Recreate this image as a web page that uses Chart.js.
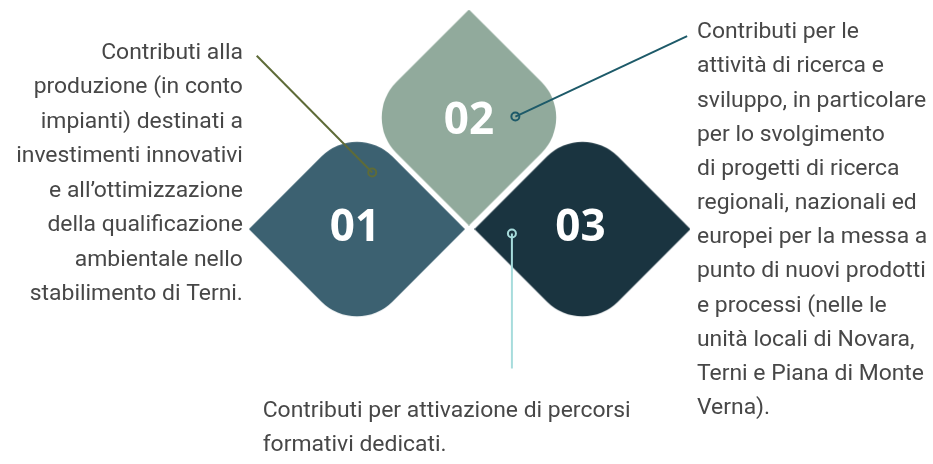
<!DOCTYPE html>
<html>
<head>
<meta charset="utf-8">
<script src="https://cdn.jsdelivr.net/npm/chart.js@4.4.1/dist/chart.umd.min.js"></script>
<style>
  html, body { margin: 0; padding: 0; background: #ffffff; }
  #wrap { width: 933px; height: 464px; position: relative; }
</style>
</head>
<body>
<div id="wrap"><canvas id="c"></canvas></div>
<script>
// ---- data ----
const stepLabels = ["01", "02", "03"];
const shapeX = [355.5, 469, 584];
const shapeY = [229, 114.5, 229];
const shapeColors = ["#3c6171", "#91aa9c", "#1a3440"];
const shapeRotation = [0, 90, 0];

const connector1 = [{x: 371, y: 171}, {x: 254, y: 51}];
const connector2 = [{x: 516, y: 113.5}, {x: 690, y: 31}];
const connector3 = [{x: 512.5, y: 233.5}, {x: 512.5, y: 372}];
const connectorColors = ["#5e6b38", "#1d5a69", "#a7dcdc"];

const textLeft = ["Contributi alla", "produzione (in conto", "impianti) destinati a", "investimenti innovativi", "e all\u2019ottimizzazione", "della qualificazione", "ambientale nello", "stabilimento di Terni."];
const textRight = ["Contributi per le", "attivit\u00e0 di ricerca e", "sviluppo, in particolare", "per lo svolgimento", "di progetti di ricerca", "regionali, nazionali ed", "europei per la messa a", "punto di nuovi prodotti", "e processi (nelle le", "unit\u00e0 locali di Novara,", "Terni e Piana di Monte", "Verna)."];
const textBottom = ["Contributi per attivazione di percorsi", "formativi dedicati."];

// ---- point style canvases (diamond with two rounded corners) ----
function makeShape(color) {
  const s = 216, r = 50, c = document.createElement('canvas');
  c.width = s; c.height = s;
  const g = c.getContext('2d');
  g.fillStyle = color;
  g.beginPath();
  g.moveTo(0, s / 2);
  g.arcTo(s / 2, 0, s, s / 2, r);
  g.lineTo(s, s / 2);
  g.arcTo(s / 2, s, 0, s / 2, r);
  g.closePath();
  g.fill();
  return c;
}
const shapeStyles = shapeColors.map(makeShape);

const TEXT_COLOR = '#474747';
const NUM_NUDGE = [[-2, -1], [0, 4], [-2, -1]];

const labelPlugin = {
  id: 'labels',
  afterDatasetsDraw(chart) {
    const ctx = chart.ctx;
    const xs = chart.scales.x, ys = chart.scales.y;
    ctx.save();
    // step numbers
    ctx.fillStyle = '#ffffff';
    ctx.font = 'bold 44px "Open Sans"';
    ctx.textAlign = 'center';
    ctx.textBaseline = 'middle';
    stepLabels.forEach((t, i) => {
      ctx.fillText(t, xs.getPixelForValue(shapeX[i]) + NUM_NUDGE[i][0], ys.getPixelForValue(shapeY[i]) + NUM_NUDGE[i][1]);
    });
    // descriptions: size fitted so the long bottom line spans ~368px
    ctx.font = '20px Roboto';
    const w20 = ctx.measureText(textBottom[0]).width;
    const size = Math.min(24, Math.max(16, 20 * 368 / w20));
    ctx.font = size.toFixed(2) + 'px Roboto';
    ctx.fillStyle = TEXT_COLOR;
    ctx.textBaseline = 'alphabetic';
    ctx.textAlign = 'right';
    textLeft.forEach((t, i) => ctx.fillText(t, xs.getPixelForValue(240), ys.getPixelForValue(54 + i * 35.4)));
    ctx.textAlign = 'left';
    textRight.forEach((t, i) => ctx.fillText(t, xs.getPixelForValue(700), ys.getPixelForValue(33 + i * 35.1)));
    textBottom.forEach((t, i) => ctx.fillText(t, xs.getPixelForValue(260), ys.getPixelForValue(422 + i * 35)));
    ctx.restore();
  }
};

function connectorDataset(data, color) {
  return {
    type: 'line',
    data: data,
    showLine: true,
    borderColor: color,
    borderWidth: 2,
    pointRadius: [4, 0],
    pointBorderWidth: 2,
    pointBorderColor: color,
    pointBackgroundColor: 'rgba(0,0,0,0)',
    fill: false,
    tension: 0,
    order: 0
  };
}

new Chart(document.getElementById('c'), {
  type: 'scatter',
  data: {
    datasets: [
      {
        data: shapeX.map((x, i) => ({x: x, y: shapeY[i]})),
        pointStyle: shapeStyles,
        rotation: shapeRotation,
        pointRadius: 1,
        order: 1
      },
      connectorDataset(connector1, connectorColors[0]),
      connectorDataset(connector2, connectorColors[1]),
      connectorDataset(connector3, connectorColors[2])
    ]
  },
  options: {
    responsive: true,
    maintainAspectRatio: false,
    animation: false,
    events: [],
    layout: { padding: 0 },
    plugins: { legend: { display: false }, tooltip: { enabled: false } },
    scales: {
      x: { type: 'linear', min: 0, max: 933, display: false },
      y: { type: 'linear', min: 0, max: 464, reverse: true, display: false }
    }
  },
  plugins: [labelPlugin]
});
</script>
</body>
</html>
